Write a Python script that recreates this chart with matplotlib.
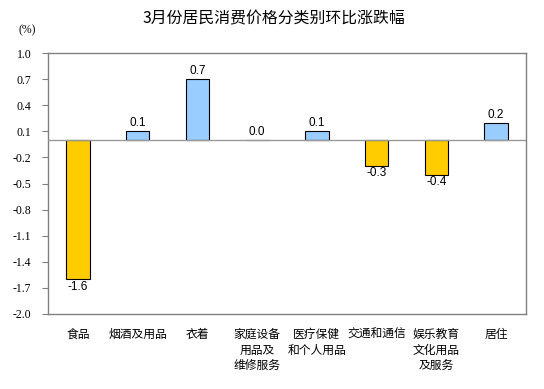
import matplotlib
matplotlib.use("Agg")
import matplotlib.pyplot as plt
import numpy as np

plt.rcParams['font.family'] = ['Noto Sans CJK SC', 'DejaVu Sans']

categories = ["食品", "烟酒及用品", "衣着", "家庭设备\n用品及\n维修服务", "医疗保健\n和个人用品",
              "交通和通信", "娱乐教育\n文化用品\n及服务", "居住"]
values = [-1.6, 0.1, 0.7, 0.0, 0.1, -0.3, -0.4, 0.2]
yticks = [1.0, 0.7, 0.4, 0.1, -0.2, -0.5, -0.8, -1.1, -1.4, -1.7, -2.0]
title = "3月份居民消费价格分类别环比涨跌幅"

fig = plt.figure(figsize=(5.44, 3.89), dpi=100)
ax = fig.add_axes([48/544, 1-314/389, (526-48)/544, (314-53)/389])

x = np.arange(len(categories))
colors = ['#FFCC00' if v < 0 else '#99CCFF' for v in values]
ax.bar(x, values, width=0.39, color=colors, edgecolor='black', linewidth=0.8, zorder=3)
ax.axhline(0, color='#999999', linewidth=1.0, zorder=4)

for xi, v in zip(x, values):
    if v < 0:
        ax.annotate(f"{v:.1f}", (xi, v), xytext=(0, -1), textcoords='offset points',
                    ha='center', va='top', fontsize=8.5, family='Liberation Sans')
    else:
        ax.annotate(f"{v:.1f}", (xi, v), xytext=(0, 1.5), textcoords='offset points',
                    ha='center', va='bottom', fontsize=8.5, family='Liberation Sans')

ax.set_xlim(-0.5, len(categories) - 0.5)
ax.set_ylim(-2.0, 1.0)
ax.set_yticks(yticks)
ax.set_yticklabels([f"{t:.1f}" for t in yticks], family='Liberation Serif', fontsize=8.5)
ax.tick_params(axis='y', direction='out', length=4, color='#808080', pad=8)
ax.set_xticks(x)
ax.set_xticklabels(categories, fontsize=8.5, linespacing=1.25, va='top')
ax.tick_params(axis='x', length=0, pad=10)
for s in ax.spines.values():
    s.set_color('#808080')
    s.set_linewidth(1.0)

fig.text(274/544, 1-19/389, title, ha='center', va='center', fontsize=11.4)
fig.text(27/544, 1-30/389, "(%)", ha='center', va='center', fontsize=8.5, family='Liberation Serif')

fig.savefig("out.png", dpi=100)
